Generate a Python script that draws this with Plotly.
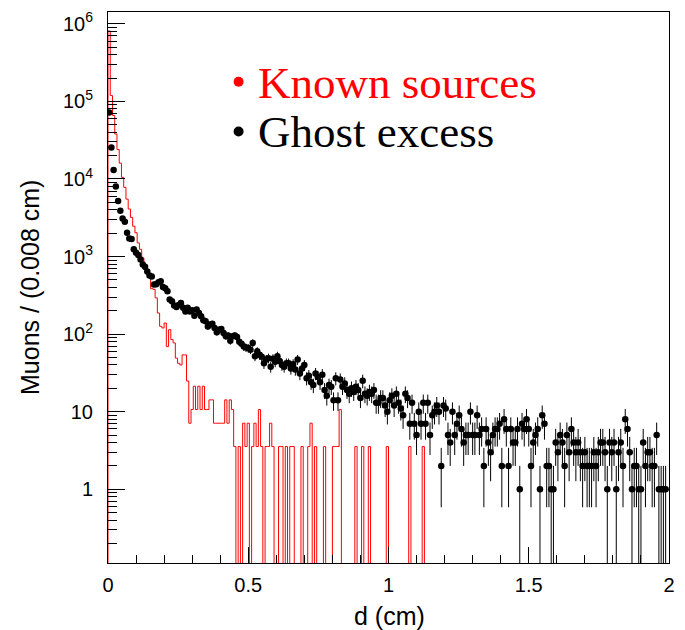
import math
import plotly.graph_objects as go

BIN_WIDTH = 0.008  # cm

# Ghost excess: muon counts per 0.008 cm bin (250 bins, 0 - 2 cm)
ghost_excess = [
    72000, 25500, 13100, 8000, 5200, 3900, 3100, 2800, 2030, 1710,
    1680, 1240, 1120, 1050, 915, 790, 740, 640, 570, 555,
    435, 440, 466, 480, 406, 390, 357, 279, 265, 234,
    224, 238, 252, 218, 195, 218, 196, 203, 173, 207,
    187, 170, 151, 146, 125, 133, 136, 120, 106, 114,
    116, 103, 94, 96, 82, 94, 96, 92, 80, 75,
    69, 67, 66, 63, 77, 52, 60, 54, 51, 42,
    47, 49, 38, 48, 44, 52, 45, 40, 38, 42,
    42, 36, 41, 35, 47, 31, 36, 40, 27, 29,
    24, 22, 31, 28, 24, 30, 19, 16, 22, 21,
    14, 27, 14, 26, 21, 23, 19, 17, 20, 18,
    21, 19, 15, 25, 17, 16, 18, 17, 19, 13,
    13, 15, 15, 12, 10, 14, 16, 12, 17, 13,
    11, 9, 17, 15, 7, 13, 7, 5, 10, 7,
    13, 7, 13, 5, 9, 10, 12, 10, 2, 12,
    11, 5, 4, 10, 5, 7, 9, 6, 4, 5,
    5, 10, 5, 5, 9, 5, 6, 2, 6, 4,
    3, 5, 6, 6, 7, 2, 8, 6, 2, 6,
    4, 4, 6, 1, 7, 6, 8, 6, 2, 4,
    5, 6, 1, 9, 7, 2, 2, 1, 1, 4,
    3, 5, 4, 2, 5, 3, 6, 4, 3, 4,
    3, 2, 3, 2, 2, 2, 3, 2, 3, 4,
    4, 3, 1, 4, 3, 4, 1, 3, 4, 2,
    8, 6, 3, 1, 2, 2, 1, 1, 4, 2,
    3, 3, 2, 2, 5, 1, 1, 1, 1, 0,
]

# Known sources: expected muons per bin (histogram)
known_sources = [
    810000, 119000, 66000, 38000, 24000, 16000, 10500, 7800, 5500, 4100,
    3200, 2460, 2030, 1500, 1240, 960, 680, 640, 535, 385,
    378, 293, 187, 126, 120, 139, 69, 114, 85, 77,
    49, 42, 40, 54, 54, 24.85, 7.1, 10.65, 21.3, 10.65,
    21.3, 10.65, 21.3, 10.65, 10.65, 14.2, 14.2, 7.1, 7.1, 7.1,
    7.1, 7.1, 14.2, 7.1, 14.2, 10.65, 3.55, 0, 3.55, 0,
    7.1, 3.55, 7.1, 0, 3.55, 7.1, 3.55, 10.65, 3.55, 0,
    3.55, 3.55, 7.1, 3.55, 0, 0, 3.55, 3.55, 0, 3.55,
    0, 3.55, 3.55, 0, 0, 0, 3.55, 0, 0, 3.55,
    7.1, 0, 3.55, 0, 0, 0, 3.55, 0, 0, 0,
    3.55, 3.55, 3.55, 10.65, 0, 0, 0, 0, 0, 0,
    3.55, 0, 0, 3.55, 0, 0, 3.55, 0, 0, 0,
    0, 0, 0, 0, 3.55, 0, 0, 0, 0, 0,
    0, 0, 0, 0, 3.55, 0, 0, 0, 0, 0,
    3.55, 0, 0, 0, 0, 0, 0, 0, 0, 0,
] + [0] * 100

y_tick_vals = [1, 10, 100, 1000, 10000, 100000, 1000000]
y_tick_text = ["1", "10", "10<sup>2</sup>", "10<sup>3</sup>", "10<sup>4</sup>",
               "10<sup>5</sup>", "10<sup>6</sup>"]
x_tick_vals = [0, 0.5, 1, 1.5, 2]
x_tick_text = ["0", "0.5", "1", "1.5", "2"]

n = len(ghost_excess)
edges = [i * BIN_WIDTH for i in range(n + 1)]
centers = [(i + 0.5) * BIN_WIDTH for i in range(n)]

FLOOR = 1e-3  # empty bins drop below the visible log range
hx = [0.0] + edges[:-1] + [edges[-1]]
hv_vals = [v if v > 0 else FLOOR for v in known_sources]
hy = [FLOOR] + hv_vals + [hv_vals[-1]]

gx = [c for c, v in zip(centers, ghost_excess) if v > 0]
gy = [v for v in ghost_excess if v > 0]
gerr = [math.sqrt(v) for v in gy]

fig = go.Figure()
fig.add_trace(go.Scatter(
    x=hx, y=hy, mode="lines", line=dict(color="#ff0000", width=1, shape="hv"),
    showlegend=False, hoverinfo="skip"))
fig.add_trace(go.Scatter(
    x=gx, y=gy, mode="markers",
    marker=dict(color="black", size=6.5, symbol="circle"),
    error_y=dict(type="data", array=gerr, visible=True, color="black",
                 thickness=1, width=0),
    showlegend=False))

minor_y = []
for d in range(-1, 6):
    for m in range(2, 10):
        v = m * 10 ** d
        if 0.11 < v < 1.4e6:
            minor_y.append(v)
minor_x = [round(0.1 * k, 1) for k in range(1, 20) if k % 5 != 0]

tick_font = dict(family="Liberation Sans, Arial, sans-serif", size=20, color="black")

fig.update_layout(
    width=685, height=630,
    margin=dict(l=108, r=10, t=10, b=67),
    paper_bgcolor="white", plot_bgcolor="white",
    xaxis=dict(
        range=[0, 2], showline=True, linecolor="black", linewidth=1, mirror=True,
        ticks="inside", ticklen=16, tickwidth=1, tickcolor="black",
        tickmode="array", tickvals=x_tick_vals, ticktext=x_tick_text,
        minor=dict(tickvals=minor_x, ticks="inside", ticklen=8, tickwidth=1,
                   tickcolor="black", showgrid=False),
        showgrid=False, zeroline=False, tickfont=tick_font, ticklabelstandoff=4),
    yaxis=dict(
        type="log", range=[-0.951, 6.153], showline=True, linecolor="black",
        linewidth=1, mirror=True,
        ticks="inside", ticklen=17, tickwidth=1, tickcolor="black",
        tickmode="array", tickvals=y_tick_vals, ticktext=y_tick_text,
        minor=dict(tickvals=minor_y, ticks="inside", ticklen=9, tickwidth=1,
                   tickcolor="black", showgrid=False),
        showgrid=False, zeroline=False, tickfont=tick_font, ticklabelstandoff=10),
    annotations=[
        dict(text="Muons / (0.008 cm)", textangle=-90, xref="paper", yref="paper",
             x=-0.14, y=0.5, xanchor="center", yanchor="middle", showarrow=False,
             font=dict(family="Liberation Sans, Arial, sans-serif", size=25, color="black")),
        dict(text="d (cm)", xref="paper", yref="paper", x=0.501, y=-0.097,
             xanchor="center", yanchor="middle", showarrow=False,
             font=dict(family="Liberation Sans, Arial, sans-serif", size=25, color="black")),
        dict(text="Known sources", xref="paper", yref="paper", x=0.263, y=0.872,
             xanchor="left", yanchor="middle", showarrow=False,
             font=dict(family="Liberation Serif, Times New Roman, serif", size=45, color="#ff0000")),
        dict(text="Ghost excess", xref="paper", yref="paper", x=0.263, y=0.782,
             xanchor="left", yanchor="middle", showarrow=False,
             font=dict(family="Liberation Serif, Times New Roman, serif", size=45, color="black")),
    ],
    shapes=[
        dict(type="circle", xref="paper", yref="paper", xsizemode="pixel", ysizemode="pixel",
             xanchor=0.2328, yanchor=0.8734, x0=-5, x1=5, y0=-5, y1=5,
             fillcolor="#ff0000", line=dict(width=0)),
        dict(type="circle", xref="paper", yref="paper", xsizemode="pixel", ysizemode="pixel",
             xanchor=0.2328, yanchor=0.783, x0=-5, x1=5, y0=-5, y1=5,
             fillcolor="black", line=dict(width=0)),
    ],
)

fig.write_html("out.html")
